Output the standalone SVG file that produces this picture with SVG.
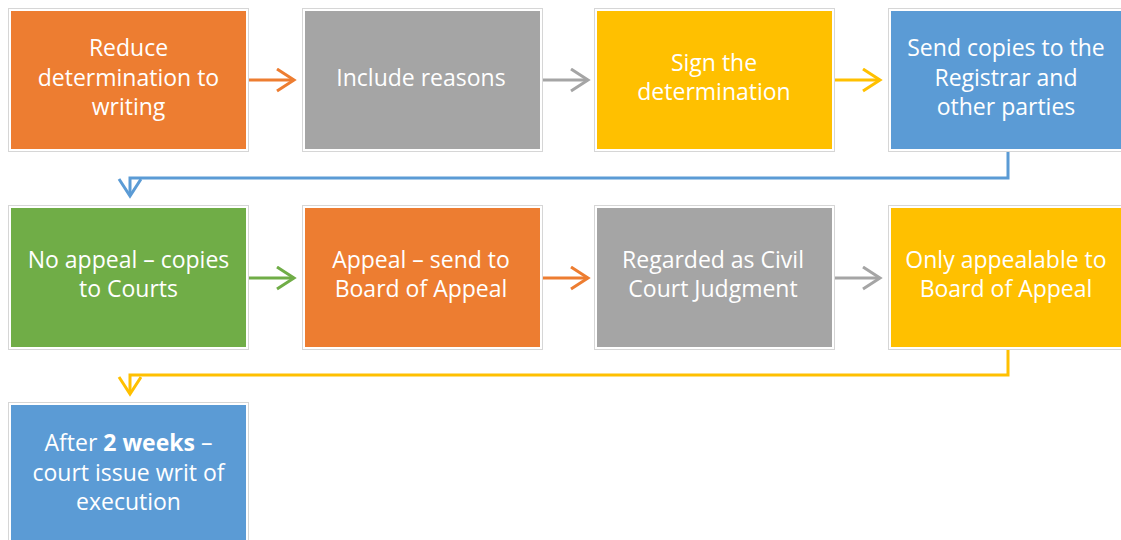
<svg xmlns="http://www.w3.org/2000/svg" width="1121" height="540" viewBox="0 0 1121 540">
<defs>
<style>
.frame{fill:#fff;stroke:#d6d6d6;stroke-width:1}
.t{font-family:"Open Sans","Liberation Sans",sans-serif;font-size:23px;fill:#fff;text-anchor:middle}
.c{fill:none;stroke-width:3}
</style>
<marker id="mo" markerUnits="userSpaceOnUse" markerWidth="22" markerHeight="26" refX="18" refY="12" orient="auto"><path d="M1,1 L18,12 L1,23" fill="none" stroke="#ED7D31" stroke-width="3"/></marker>
<marker id="mg" markerUnits="userSpaceOnUse" markerWidth="22" markerHeight="26" refX="18" refY="12" orient="auto"><path d="M1,1 L18,12 L1,23" fill="none" stroke="#A5A5A5" stroke-width="3"/></marker>
<marker id="my" markerUnits="userSpaceOnUse" markerWidth="22" markerHeight="26" refX="18" refY="12" orient="auto"><path d="M1,1 L18,12 L1,23" fill="none" stroke="#FFC000" stroke-width="3"/></marker>
<marker id="mb" markerUnits="userSpaceOnUse" markerWidth="22" markerHeight="26" refX="18" refY="12" orient="auto"><path d="M1,1 L18,12 L1,23" fill="none" stroke="#5B9BD5" stroke-width="3"/></marker>
<marker id="mn" markerUnits="userSpaceOnUse" markerWidth="22" markerHeight="26" refX="18" refY="12" orient="auto"><path d="M1,1 L18,12 L1,23" fill="none" stroke="#70AD47" stroke-width="3"/></marker>
</defs>
<rect width="1121" height="540" fill="#fff"/>
<g id="connectors">
<path class="c" stroke="#ED7D31" d="M249,80 H294" marker-end="url(#mo)"/>
<path class="c" stroke="#A5A5A5" d="M542,80 H588" marker-end="url(#mg)"/>
<path class="c" stroke="#FFC000" d="M834,80 H880" marker-end="url(#my)"/>
<path class="c" stroke="#5B9BD5" d="M1008,152 V178 H130 V196" marker-end="url(#mb)"/>
<path class="c" stroke="#70AD47" d="M249,278 H294" marker-end="url(#mn)"/>
<path class="c" stroke="#ED7D31" d="M542,278 H588" marker-end="url(#mo)"/>
<path class="c" stroke="#A5A5A5" d="M834,278 H880" marker-end="url(#mg)"/>
<path class="c" stroke="#FFC000" d="M1008,350 V375 H130 V394" marker-end="url(#my)"/>
</g>
<g id="n1"><rect class="frame" x="8.5" y="8.5" width="240" height="143"/><rect x="11" y="11" width="235" height="138" fill="#ED7D31"/>
<text class="t" x="128.5"><tspan x="128.5" y="56">Reduce</tspan><tspan x="128.5" y="86">determination to</tspan><tspan x="128.5" y="115">writing</tspan></text></g>
<g id="n2"><rect class="frame" x="302.5" y="8.5" width="240" height="143"/><rect x="305" y="11" width="235" height="138" fill="#A5A5A5"/>
<text class="t" x="421" y="86">Include reasons</text></g>
<g id="n3"><rect class="frame" x="594.5" y="8.5" width="240" height="143"/><rect x="597" y="11" width="235" height="138" fill="#FFC000"/>
<text class="t"><tspan x="714" y="71">Sign the</tspan><tspan x="714" y="100">determination</tspan></text></g>
<g id="n4"><rect class="frame" x="888.5" y="8.5" width="240" height="143"/><rect x="891" y="11" width="235" height="138" fill="#5B9BD5"/>
<text class="t"><tspan x="1006" y="56">Send copies to the</tspan><tspan x="1006" y="86">Registrar and</tspan><tspan x="1006" y="115">other parties</tspan></text></g>
<g id="n5"><rect class="frame" x="8.5" y="205.5" width="240" height="144"/><rect x="11" y="208" width="235" height="139" fill="#70AD47"/>
<text class="t"><tspan x="128.5" y="268">No appeal – copies</tspan><tspan x="128.5" y="297">to Courts</tspan></text></g>
<g id="n6"><rect class="frame" x="302.5" y="205.5" width="240" height="144"/><rect x="305" y="208" width="235" height="139" fill="#ED7D31"/>
<text class="t"><tspan x="421" y="268">Appeal – send to</tspan><tspan x="421" y="297">Board of Appeal</tspan></text></g>
<g id="n7"><rect class="frame" x="594.5" y="205.5" width="240" height="144"/><rect x="597" y="208" width="235" height="139" fill="#A5A5A5"/>
<text class="t"><tspan x="713" y="268">Regarded as Civil</tspan><tspan x="713" y="297">Court Judgment</tspan></text></g>
<g id="n8"><rect class="frame" x="888.5" y="205.5" width="240" height="144"/><rect x="891" y="208" width="235" height="139" fill="#FFC000"/>
<text class="t"><tspan x="1006" y="268">Only appealable to</tspan><tspan x="1006" y="297">Board of Appeal</tspan></text></g>
<g id="n9"><rect class="frame" x="8.5" y="402.5" width="240" height="144"/><rect x="11" y="405" width="235" height="139" fill="#5B9BD5"/>
<text class="t"><tspan x="128.5" y="451">After <tspan font-weight="bold">2 weeks</tspan> –</tspan><tspan x="128.5" y="481">court issue writ of</tspan><tspan x="128.5" y="510">execution</tspan></text></g>
</svg>
